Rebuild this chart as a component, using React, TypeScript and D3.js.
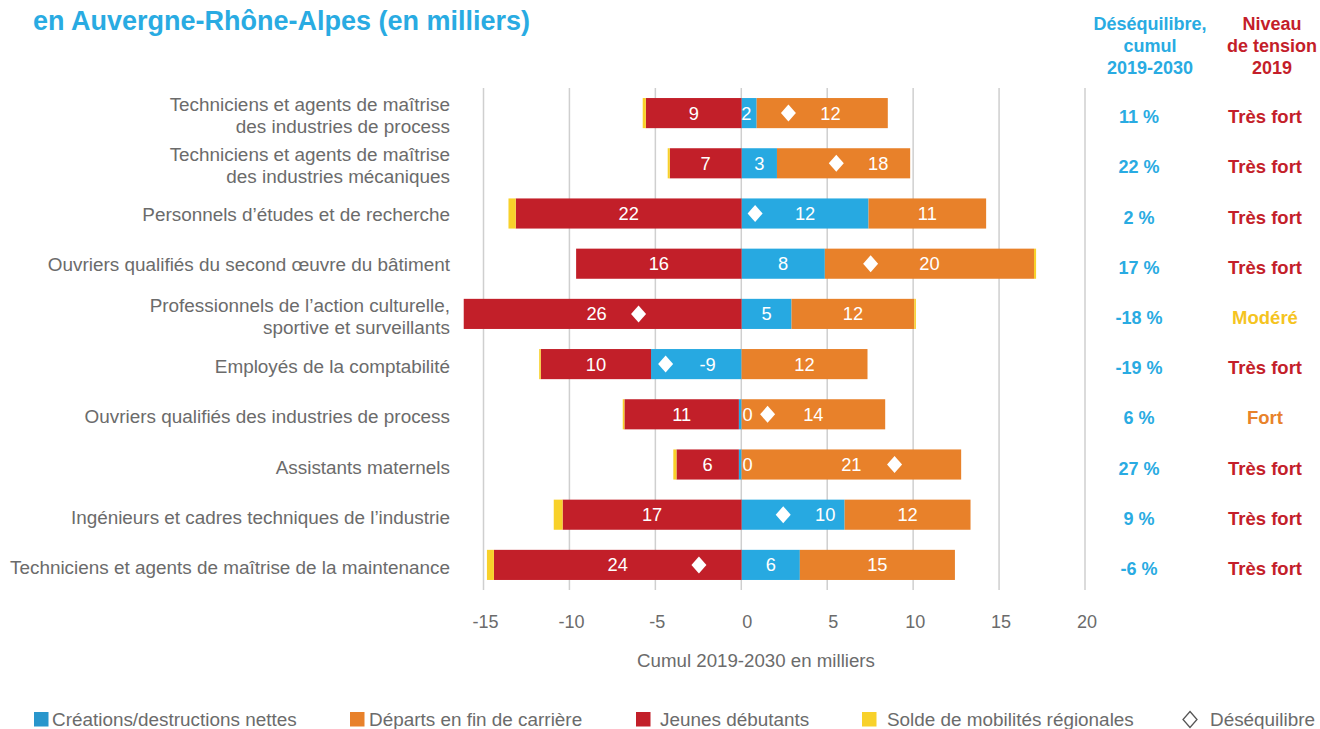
import * as d3 from "d3";

// libellés des métiers (une ligne ou deux)
const categories = [
  ["Techniciens et agents de maîtrise", "des industries de process"],
  ["Techniciens et agents de maîtrise", "des industries mécaniques"],
  ["Personnels d’études et de recherche"],
  ["Ouvriers qualifiés du second œuvre du bâtiment"],
  ["Professionnels de l’action culturelle,", "sportive et surveillants"],
  ["Employés de la comptabilité"],
  ["Ouvriers qualifiés des industries de process"],
  ["Assistants maternels"],
  ["Ingénieurs et cadres techniques de l’industrie"],
  ["Techniciens et agents de maîtrise de la maintenance"],
];

// longueurs des barres
const creations = [1.45, 3.4, 12.2, 8.0, 4.8, -8.7, -0.26, -0.26, 9.9, 5.6];
const departs = [12.6, 12.8, 11.3, 20.1, 11.8, 12.1, 13.8, 21.1, 12.1, 14.9];
const jeunes = [9.2, 6.9, 21.7, 15.9, 26.7, 10.6, 11.0, 6.0, 17.2, 23.8];
const mobilites = [-0.3, -0.2, -0.7, 0.2, 0.15, -0.15, -0.16, -0.3, -0.85, -0.67];
const desequilibre = [4.5, 9.1, 1.3, 12.4, -9.9, -7.3, 2.5, 14.7, 4.0, -4.1];

// étiquettes affichées
const creationsLabels = ["2", "3", "12", "8", "5", "-9", "0", "0", "10", "6"];
const departsLabels = ["12", "18", "11", "20", "12", "12", "14", "21", "12", "15"];
const jeunesLabels = ["9", "7", "22", "16", "26", "10", "11", "6", "17", "24"];
const desequilibrePct = ["11 %", "22 %", "2 %", "17 %", "-18 %", "-19 %", "6 %", "27 %", "9 %", "-6 %"];
const tension = ["Très fort", "Très fort", "Très fort", "Très fort", "Modéré", "Très fort", "Fort", "Très fort", "Très fort", "Très fort"];
const tickValues = [-15, -10, -5, 0, 5, 10, 15, 20];

const C_BLUE = "#27a9e1";
const C_ORANGE = "#e8812a";
const C_RED = "#c21f29";
const C_YELLOW = "#f8d12a";
const GREY = "#6b6b6b";
const FONT = "'Liberation Sans', Arial, sans-serif";

const tensionColor = (t: string) => (t === "Modéré" ? "#f5c41f" : t === "Fort" ? "#e8822a" : "#c41e2a");

export default function App() {
  const W = 1320, H = 729;
  const x = d3.scaleLinear().domain([-24.8, 33.0]).range([483.5, 1085]);
  const gx = d3.scaleLinear().domain([-15, 20]).range([483.5, 1085]);
  const y = d3.scaleBand<number>()
    .domain(d3.range(categories.length))
    .range([88, 590])
    .paddingInner(0.4)
    .paddingOuter(0.2);
  const bw = y.bandwidth();

  const rows = categories.map((cat, i) => {
    const c = creations[i];
    let pos = 0, neg = 0;
    const segs: { x0: number; x1: number; color: string; label?: string }[] = [];
    if (c >= 0) { segs.push({ x0: 0, x1: c, color: C_BLUE, label: creationsLabels[i] }); pos = c; }
    else { segs.push({ x0: c, x1: 0, color: C_BLUE, label: creationsLabels[i] }); neg = c; }
    segs.push({ x0: neg - jeunes[i], x1: neg, color: C_RED, label: jeunesLabels[i] });
    neg -= jeunes[i];
    segs.push({ x0: pos, x1: pos + departs[i], color: C_ORANGE, label: departsLabels[i] });
    pos += departs[i];
    const m = mobilites[i];
    if (m < 0) segs.push({ x0: neg + m, x1: neg, color: C_YELLOW });
    else segs.push({ x0: pos, x1: pos + m, color: C_YELLOW });
    return { cat, i, segs, cy: (y(i) as number) + bw / 2, dx: x(desequilibre[i]) };
  });

  const labelX = (s: { x0: number; x1: number }, dx: number) => {
    const a = x(s.x0), b = x(s.x1);
    let cx = (a + b) / 2;
    const d = dx - cx;
    if (Math.abs(d) < 42) cx -= Math.sign(d || 1) * (42 - Math.abs(d));
    return cx;
  };

  const diamond = (cx: number, cy: number, w: number, h: number) => {
    const p = d3.path();
    p.moveTo(cx, cy - h); p.lineTo(cx + w, cy); p.lineTo(cx, cy + h); p.lineTo(cx - w, cy); p.closePath();
    return p.toString();
  };

  const legend = [
    { x: 34, tx: 52, color: "#2996cc", text: "Créations/destructions nettes" },
    { x: 350, tx: 369, color: C_ORANGE, text: "Départs en fin de carrière" },
    { x: 636, tx: 660, color: C_RED, text: "Jeunes débutants" },
    { x: 862, tx: 887, color: C_YELLOW, text: "Solde de mobilités régionales" },
  ];

  return (
    <svg width={W} height={H} style={{ position: "absolute", left: 0, top: 0, background: "#fff" }} fontFamily={FONT}>
      <text x={33} y={30} fontSize={27} fontWeight="bold" fill="#29abe2">en Auvergne-Rhône-Alpes (en milliers)</text>

      {/* en-têtes des colonnes */}
      {["Déséquilibre,", "cumul", "2019-2030"].map((t, k) => (
        <text key={t} x={1150} y={30 + k * 22} textAnchor="middle" fontSize={18} fontWeight="bold" fill="#29abe2">{t}</text>
      ))}
      {["Niveau", "de tension", "2019"].map((t, k) => (
        <text key={t} x={1272} y={30 + k * 22} textAnchor="middle" fontSize={18} fontWeight="bold" fill="#c41e2a">{t}</text>
      ))}

      {/* grille */}
      {tickValues.map((t) => (
        <g key={t}>
          <line x1={gx(t)} x2={gx(t)} y1={88} y2={590} stroke="#cfcfcf" strokeWidth={1.5} />
          <text x={gx(t) + (t === 0 || t === 5 ? 6 : 2)} y={628} textAnchor="middle" fontSize={18} fill={GREY}>{t}</text>
        </g>
      ))}
      <text x={756} y={667} textAnchor="middle" fontSize={18.7} fill={GREY}>Cumul 2019-2030 en milliers</text>

      {rows.map((r) => (
        <g key={r.i}>
          {r.cat.map((line, k) => (
            <text key={k} x={450} y={r.cat.length === 1 ? r.cy + 7 + (r.i >= 5 ? 2 : 0) : r.cy - 2 + k * 22} textAnchor="end" fontSize={18.9} fill={GREY}>{line}</text>
          ))}
          {r.segs.map((s, k) => (
            <rect key={k} x={x(s.x0)} y={r.cy - bw / 2} width={Math.max(0.8, x(s.x1) - x(s.x0))} height={bw} fill={s.color} />
          ))}
          {r.segs.filter((s) => s.label).map((s, k) => {
            const narrow = x(s.x1) - x(s.x0) < 10;
            return (
              <text key={k} x={narrow ? x(0) + 1 : labelX(s, r.dx)} y={r.cy + 6.5} textAnchor={narrow ? "start" : "middle"} fontSize={18.3} fill="#fff">{s.label}</text>
            );
          })}
          <path d={diamond(r.dx, r.cy, 7.5, 8.5)} fill="#fff" />
          <text x={1139} y={r.cy + 10} textAnchor="middle" fontSize={18} fontWeight="bold" fill="#29abe2">{desequilibrePct[r.i]}</text>
          <text x={1265} y={r.cy + 10} textAnchor="middle" fontSize={18.5} fontWeight="bold" fill={tensionColor(tension[r.i])}>{tension[r.i]}</text>
        </g>
      ))}

      {/* légende */}
      {legend.map((l) => (
        <g key={l.text}>
          <rect x={l.x} y={712} width={14.5} height={14.5} fill={l.color} />
          <text x={l.tx} y={726} fontSize={18.9} fill={GREY}>{l.text}</text>
        </g>
      ))}
      <path d={diamond(1190, 719.5, 7, 8)} fill="none" stroke="#555" strokeWidth={1.3} />
      <text x={1210} y={726} fontSize={18.9} fill={GREY}>Déséquilibre</text>
    </svg>
  );
}
